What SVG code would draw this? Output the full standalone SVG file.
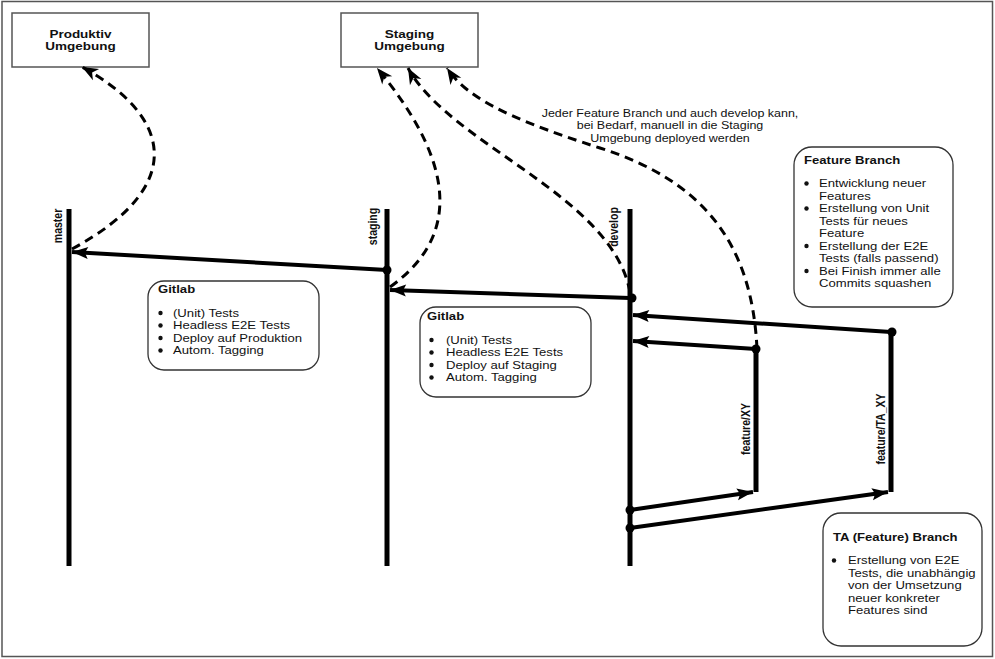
<svg xmlns="http://www.w3.org/2000/svg" width="995" height="659" viewBox="0 0 995 659">
<style>
text{font-family:"Liberation Sans",Arial,Helvetica,sans-serif;fill:#111}
.env{fill:#fff;stroke:#555;stroke-width:1.5}
.envt{font-size:10.8px;font-weight:bold;text-anchor:middle}
.lane{stroke:#000;stroke-width:5;fill:none}
.lab{font-size:10.5px;font-weight:bold;text-anchor:middle}
.arr{stroke:#000;stroke-width:4;fill:none;marker-end:url(#ah)}
.dash{stroke:#000;stroke-width:3;fill:none;stroke-dasharray:9 6;marker-end:url(#dh)}
.dot{fill:#000}
.note{fill:#fff;stroke:#333;stroke-width:1.3}
.nt{font-size:10.5px;font-weight:bold}
.li{font-size:10.5px}
.bul{fill:#111}
.cap{font-size:10px;text-anchor:middle}
</style>
<defs>
<marker id="ah" markerUnits="userSpaceOnUse" markerWidth="18" markerHeight="14" refX="16" refY="6" orient="auto" overflow="visible">
<path d="M0,0 L16,6 L0,12 L3,6 z" fill="#000"/>
</marker>
<marker id="dh" markerUnits="userSpaceOnUse" markerWidth="18" markerHeight="14" refX="16" refY="6.5" orient="auto" overflow="visible">
<path d="M0,0 L16,6.5 L0,13 L4.5,6.5 z" fill="#000"/>
</marker>
</defs>
<rect x="2" y="1.5" width="990.5" height="655" fill="#fff" stroke="#555" stroke-width="1.5"/>

<g id="produktiv">
<rect class="env" x="12" y="13" width="137" height="54"/>
<g transform="translate(80.5,0) scale(1.25,1)">
<text class="envt" x="0" y="38.5">Produktiv</text>
<text class="envt" x="0" y="50.5">Umgebung</text>
</g>
</g>
<g id="staging-env">
<rect class="env" x="341" y="13" width="137" height="54"/>
<g transform="translate(409.5,0) scale(1.25,1)">
<text class="envt" x="0" y="38.5">Staging</text>
<text class="envt" x="0" y="50.5">Umgebung</text>
</g>
</g>

<g id="master">
<line class="lane" x1="69" y1="209" x2="69" y2="566"/>
<text class="lab" transform="translate(62,226) rotate(-90) scale(1,1.25)">master</text>
</g>
<g id="staging">
<line class="lane" x1="387" y1="209" x2="387" y2="566"/>
<text class="lab" transform="translate(377,226.5) rotate(-90) scale(1,1.25)">staging</text>
</g>
<g id="develop">
<line class="lane" x1="630" y1="209" x2="630" y2="566"/>
<text class="lab" transform="translate(618,227) rotate(-90) scale(1,1.25)">develop</text>
</g>
<g id="feature-xy">
<line class="lane" x1="756" y1="349" x2="756" y2="492"/>
<text class="lab" transform="translate(749.5,429) rotate(-90) scale(1,1.25)">feature/XY</text>
</g>
<g id="feature-ta-xy">
<line class="lane" x1="891" y1="332" x2="891" y2="492"/>
<text class="lab" transform="translate(885,429) rotate(-90) scale(1,1.25)">feature/TA_XY</text>
</g>

<g id="connectors">
<line class="arr" x1="387" y1="270" x2="72" y2="252"/>
<line class="arr" x1="630" y1="298" x2="390" y2="290"/>
<line class="arr" x1="891" y1="332" x2="633" y2="315"/>
<line class="arr" x1="756" y1="349" x2="633" y2="341"/>
<line class="arr" x1="630" y1="510" x2="753" y2="492"/>
<line class="arr" x1="630" y1="528" x2="888" y2="492"/>
<path class="dash" d="M72,249 C190,185 170,115 82,67"/>
<path class="dash" d="M390,287 C470,230 445,150 377,68"/>
<path class="dash" d="M630,292 C612,195 450,145 408,68"/>
<path class="dash" d="M757,349 C752,240 700,180 600,148 S465,95 447,68"/>
<circle class="dot" cx="387" cy="270" r="4.5"/>
<circle class="dot" cx="632" cy="298" r="4.5"/>
<circle class="dot" cx="892" cy="332" r="4.5"/>
<circle class="dot" cx="756" cy="349" r="4.5"/>
<circle class="dot" cx="630" cy="510" r="4.5"/>
<circle class="dot" cx="630" cy="528" r="4.5"/>
</g>

<g id="deploy-note">
<g transform="translate(670,0) scale(1.25,1)">
<text class="cap" x="0" y="117">Jeder Feature Branch und auch develop kann,</text>
<text class="cap" x="0" y="129.5">bei Bedarf, manuell in die Staging</text>
<text class="cap" x="0" y="142">Umgebung deployed werden</text>
</g>
</g>

<g id="gitlab-prod">
<rect class="note" x="148" y="281" width="171" height="89" rx="16"/>
<circle class="bul" cx="160.5" cy="313" r="2.2"/>
<circle class="bul" cx="160.5" cy="325.5" r="2.2"/>
<circle class="bul" cx="160.5" cy="338" r="2.2"/>
<circle class="bul" cx="160.5" cy="350.5" r="2.2"/>
<g transform="translate(173,0) scale(1.25,1)">
<text class="nt" x="-12" y="293.5">Gitlab</text>
<text class="li" x="0" y="317">(Unit) Tests</text>
<text class="li" x="0" y="329.5">Headless E2E Tests</text>
<text class="li" x="0" y="342">Deploy auf Produktion</text>
<text class="li" x="0" y="354.5">Autom. Tagging</text>
</g>
</g>

<g id="gitlab-staging">
<rect class="note" x="420" y="307" width="171" height="90" rx="16"/>
<circle class="bul" cx="431.5" cy="340" r="2.2"/>
<circle class="bul" cx="431.5" cy="352.5" r="2.2"/>
<circle class="bul" cx="431.5" cy="365" r="2.2"/>
<circle class="bul" cx="431.5" cy="377.5" r="2.2"/>
<g transform="translate(446,0) scale(1.25,1)">
<text class="nt" x="-15.2" y="320">Gitlab</text>
<text class="li" x="0" y="344">(Unit) Tests</text>
<text class="li" x="0" y="356.5">Headless E2E Tests</text>
<text class="li" x="0" y="369">Deploy auf Staging</text>
<text class="li" x="0" y="381.5">Autom. Tagging</text>
</g>
</g>

<g id="feature-branch-note">
<rect class="note" x="794" y="147" width="159" height="160" rx="18"/>
<circle class="bul" cx="806.5" cy="183.5" r="2.2"/>
<circle class="bul" cx="806.5" cy="208.5" r="2.2"/>
<circle class="bul" cx="806.5" cy="246" r="2.2"/>
<circle class="bul" cx="806.5" cy="271" r="2.2"/>
<g transform="translate(819,0) scale(1.25,1)">
<text class="nt" x="-12" y="164.5">Feature Branch</text>
<text class="li" x="0" y="187.5">Entwicklung neuer</text>
<text class="li" x="0" y="200">Features</text>
<text class="li" x="0" y="212.5">Erstellung von Unit</text>
<text class="li" x="0" y="225">Tests für neues</text>
<text class="li" x="0" y="237.5">Feature</text>
<text class="li" x="0" y="250">Erstellung der E2E</text>
<text class="li" x="0" y="262.5">Tests (falls passend)</text>
<text class="li" x="0" y="275">Bei Finish immer alle</text>
<text class="li" x="0" y="287.5">Commits squashen</text>
</g>
</g>

<g id="ta-branch-note">
<rect class="note" x="823" y="513" width="159" height="133" rx="18"/>
<circle class="bul" cx="834" cy="560.5" r="2.2"/>
<g transform="translate(848,0) scale(1.25,1)">
<text class="nt" x="-12" y="541.5">TA (Feature) Branch</text>
<text class="li" x="0" y="564.5">Erstellung von E2E</text>
<text class="li" x="0" y="577">Tests, die unabhängig</text>
<text class="li" x="0" y="589.5">von der Umsetzung</text>
<text class="li" x="0" y="602">neuer konkreter</text>
<text class="li" x="0" y="614.5">Features sind</text>
</g>
</g>
</svg>
